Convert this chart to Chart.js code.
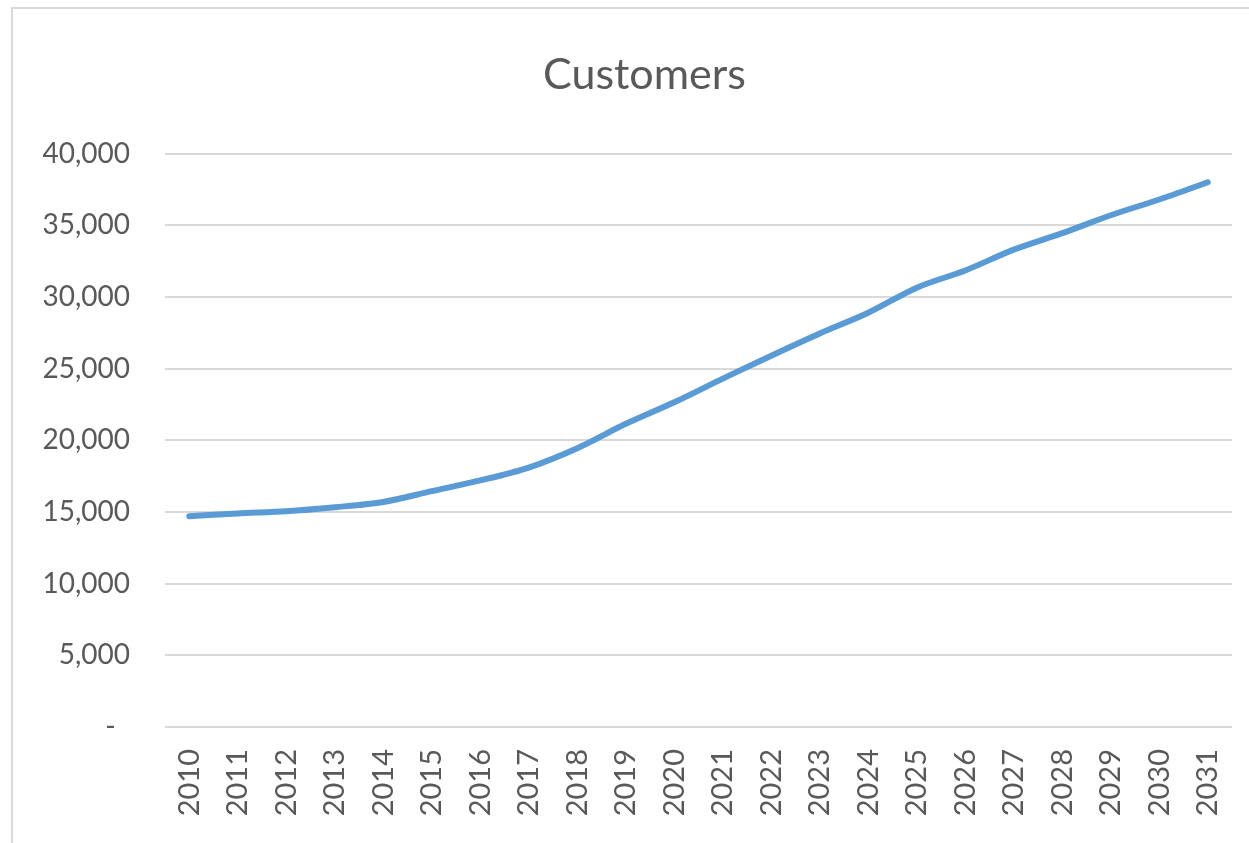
<!DOCTYPE html>
<html>
<head>
<meta charset="utf-8">
<title>Customers</title>
<script src="https://cdn.jsdelivr.net/npm/chart.js@4/dist/chart.umd.min.js"></script>
<style>
  html, body { margin: 0; padding: 0; background: #fff; overflow: hidden; }
  #wrap { position: relative; width: 1249px; height: 843px; }
  #frame { position: absolute; left: 11px; top: 7px; width: 1300px; height: 900px;
           border: 2px solid #d9d9d9; pointer-events: none; }
</style>
</head>
<body>
<div id="wrap">
  <canvas id="chart"></canvas>
  <div id="frame"></div>
</div>
<script>
// Werte
const years = ['2010', '2011', '2012', '2013', '2014', '2015', '2016', '2017', '2018', '2019', '2020',
               '2021', '2022', '2023', '2024', '2025', '2026', '2027', '2028', '2029', '2030', '2031'];
const customers = [14700, 14900, 15050, 15330, 15700, 16450, 17200, 18100, 19450, 21150, 22650,
                   24300, 25900, 27450, 28900, 30650, 31850, 33300, 34450, 35700, 36800, 38000];
const yTicks = [0, 5000, 10000, 15000, 20000, 25000, 30000, 35000, 40000];

const textColor = '#595959';
const gridColor = '#d9d9d9';

const ctx = document.getElementById('chart');
window.chart = new Chart(ctx, {
    type: 'line',
    data: {
        labels: years,
        datasets: [{
            label: 'Customers',
            data: customers,
            borderColor: '#5b9bd5',
            borderWidth: 6,
            borderCapStyle: 'round',
            borderJoinStyle: 'round',
            pointRadius: 0,
            tension: 0.3,
            fill: false
        }]
    },
    options: {
        responsive: true,
        maintainAspectRatio: false,
        devicePixelRatio: 1,
        animation: false,
        layout: { padding: { left: 40, right: 0, top: 0, bottom: 0 } },
        scales: {
            x: {
                offset: true,
                grid: { display: false, drawTicks: false },
                border: { display: false },
                ticks: {
                    color: textColor,
                    font: { family: 'Lato', size: 29 },
                    minRotation: 90,
                    maxRotation: 90,
                    autoSkip: false,
                    padding: 22
                },
                afterFit: scale => {
                    scale.height = 116;
                    scale.paddingLeft = 0;
                    scale.paddingRight = 17;
                }
            },
            y: {
                min: 0,
                max: 40000,
                grid: { color: gridColor, lineWidth: 2, drawTicks: false },
                border: { display: false },
                afterBuildTicks: scale => { scale.ticks = yTicks.map(v => ({ value: v })); },
                ticks: {
                    color: textColor,
                    font: { family: 'Lato', size: 28 },
                    padding: 35,
                    callback: v => v === 0 ? '-  ' : v.toLocaleString('en-US')
                },
                afterFit: scale => { scale.width = 125; }
            }
        },
        plugins: {
            legend: { display: false },
            tooltip: { enabled: false },
            title: {
                display: true,
                text: 'Customers',
                color: textColor,
                font: { family: 'Lato', size: 43, weight: 'normal' },
                padding: { top: 49, bottom: 53 }
            }
        }
    }
});
</script>
</body>
</html>
